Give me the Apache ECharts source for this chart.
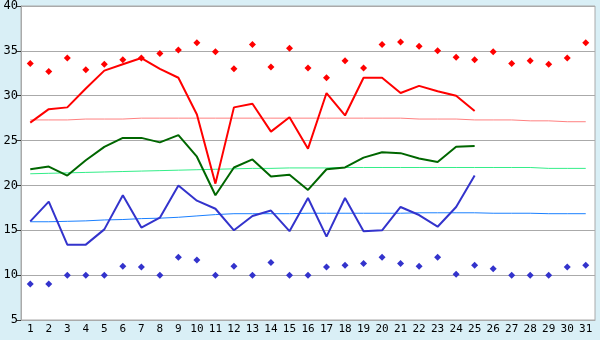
<!DOCTYPE html>
<html><head><meta charset="utf-8">
<script src="https://cdn.jsdelivr.net/npm/echarts@6/dist/echarts.min.js"></script>
<style>html,body{margin:0;padding:0;background:#d9eff6;}#c{width:600px;height:340px;}</style>
</head><body><div id="c"></div>
<script>
const days = Array.from({length:31},(_,i)=>String(i+1));
const yTicks = [5,10,15,20,25,30,35,40];
const recordHigh = [33.6,32.7,34.2,32.9,33.5,34.0,34.2,34.7,35.1,35.9,34.9,33.0,35.7,33.2,35.3,33.1,32.0,33.9,33.1,35.7,36.0,35.5,35.0,34.3,34.0,34.9,33.6,33.9,33.5,34.2,35.9];
const maxTemp = [27.0,28.5,28.7,30.8,32.8,33.5,34.2,33.0,32.0,27.9,20.2,28.7,29.1,26.0,27.6,24.1,30.3,27.8,32.0,32.0,30.3,31.1,30.5,30.0,28.3];
const avgTemp = [21.8,22.1,21.1,22.8,24.3,25.3,25.3,24.8,25.6,23.2,18.9,22.0,22.9,21.0,21.2,19.5,21.8,22.0,23.1,23.7,23.6,23.0,22.6,24.3,24.4];
const minTemp = [16.0,18.2,13.4,13.4,15.1,18.9,15.3,16.4,20.0,18.3,17.4,15.0,16.6,17.2,14.9,18.6,14.3,18.6,14.9,15.0,17.6,16.7,15.4,17.6,21.1];
const recordLow = [9.0,9.0,10.0,10.0,10.0,11.0,10.9,10.0,12.0,11.7,10.0,11.0,10.0,11.4,10.0,10.0,10.9,11.1,11.3,12.0,11.3,11.0,12.0,10.1,11.1,10.7,10.0,10.0,10.0,10.9,11.1];
const normalMax = [27.3,27.3,27.3,27.4,27.4,27.4,27.5,27.5,27.5,27.5,27.5,27.5,27.5,27.5,27.5,27.5,27.5,27.5,27.5,27.5,27.5,27.4,27.4,27.4,27.3,27.3,27.3,27.2,27.2,27.1,27.1];
const normalAvg = [21.3,21.35,21.4,21.45,21.5,21.55,21.6,21.65,21.7,21.75,21.8,21.85,21.9,21.9,21.95,21.95,21.95,22.0,22.0,22.0,22.0,22.0,22.0,22.0,22.0,22.0,22.0,22.0,21.9,21.9,21.9];
const normalMin = [15.95,15.95,16.0,16.05,16.15,16.2,16.3,16.35,16.45,16.6,16.75,16.85,16.85,16.85,16.85,16.9,16.9,16.9,16.9,16.9,16.9,16.95,16.95,16.95,16.95,16.9,16.9,16.9,16.85,16.85,16.85];

const font = 'DejaVu Sans Mono';
const chart = echarts.init(document.getElementById('c'));
function line(data,color,w,z){return {type:'line',data:data,symbol:'none',lineStyle:{color:color,width:w},itemStyle:{color:color},z:z,silent:true};}
function pts(data,color){return {type:'scatter',data:data,symbol:'diamond',symbolSize:7,itemStyle:{color:color,opacity:1},z:5};}
chart.setOption({
  animation:false,
  backgroundColor:'#d9eff6',
  grid:{left:21,right:5,top:5,bottom:20,show:true,backgroundColor:'#ffffff',borderColor:'#aaaaaa',borderWidth:1},
  xAxis:{type:'category',data:days,boundaryGap:true,
    axisLine:{lineStyle:{color:'#aaaaaa'}},
    axisTick:{alignWithLabel:true,length:4,lineStyle:{color:'#333333'}},
    axisLabel:{color:'#000',fontFamily:font,fontSize:11,margin:4,interval:0},
    splitLine:{show:false}},
  yAxis:{type:'value',min:yTicks[0],max:yTicks[yTicks.length-1],interval:5,
    axisLine:{show:true,lineStyle:{color:'#aaaaaa'}},
    axisTick:{show:true,length:4,lineStyle:{color:'#333333'}},
    axisLabel:{color:'#000',fontFamily:font,fontSize:12,margin:3},
    splitLine:{lineStyle:{color:'#aaaaaa'}}},
  series:[
    line(normalMax,'#ff8080',1,2),
    line(normalAvg,'#33ee88',1,2),
    line(normalMin,'#1a80ff',1,2),
    line(maxTemp,'#ff0000',2,3),
    line(avgTemp,'#006600',2,3),
    line(minTemp,'#3333cc',2,3),
    pts(recordHigh,'#ff0000'),
    pts(recordLow,'#3333cc')
  ]
});
</script></body></html>
